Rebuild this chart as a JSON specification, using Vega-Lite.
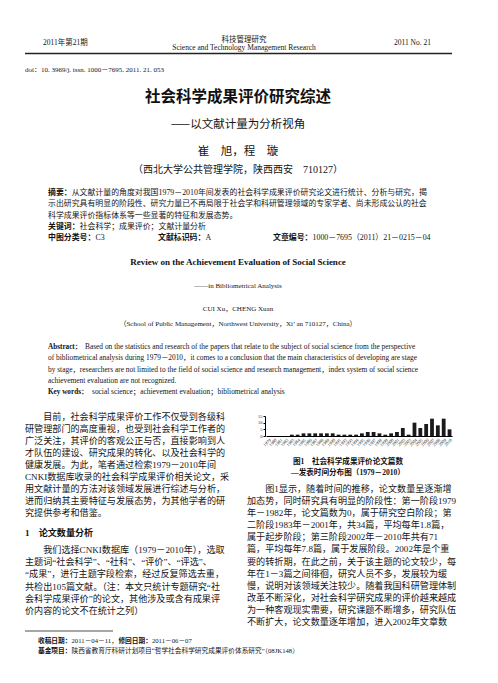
{
  "$schema": "https://vega.github.io/schema/vega-lite/v6.json",
  "width": 498,
  "height": 683,
  "autosize": "none",
  "padding": 0,
  "background": "white",
  "datasets": {
    "bars": [
      {"year": "1979", "count": 0}, {"year": "1980", "count": 0}, {"year": "1981", "count": 0}, {"year": "1982", "count": 0},
      {"year": "1983", "count": 1}, {"year": "1984", "count": 1}, {"year": "1985", "count": 2}, {"year": "1986", "count": 2},
      {"year": "1987", "count": 2}, {"year": "1988", "count": 2}, {"year": "1989", "count": 2}, {"year": "1990", "count": 2},
      {"year": "1991", "count": 1}, {"year": "1992", "count": 1}, {"year": "1993", "count": 1}, {"year": "1994", "count": 1},
      {"year": "1995", "count": 2}, {"year": "1996", "count": 3}, {"year": "1997", "count": 3}, {"year": "1998", "count": 2},
      {"year": "1999", "count": 1}, {"year": "2000", "count": 2}, {"year": "2001", "count": 3}, {"year": "2002", "count": 6},
      {"year": "2003", "count": 1}, {"year": "2004", "count": 10}, {"year": "2005", "count": 6}, {"year": "2006", "count": 9},
      {"year": "2007", "count": 13}, {"year": "2008", "count": 8}, {"year": "2009", "count": 13}, {"year": "2010", "count": 5}
    ],
    "page": [
      {"b": "hdrl", "l": 1, "t": "2011年第21期"},
      {"b": "hdrc", "l": 1, "t": "科技管理研究"},
      {"b": "hdrc", "l": 2, "t": "Science and Technology Management Research"},
      {"b": "hdrr", "l": 1, "t": "2011 No. 21"},
      {"b": "doi", "l": 1, "t": "doi：10. 3969/j. issn. 1000－7695. 2011. 21. 053"},
      {"b": "title", "l": 1, "t": "社会科学成果评价研究综述"},
      {"b": "sub", "l": 1, "t": "——以文献计量为分析视角"},
      {"b": "sub", "l": 2, "t": "崔　旭，程　璇"},
      {"b": "aff", "l": 1, "t": "（西北大学公共管理学院，陕西西安　710127）"},
      {"b": "cnabs", "l": 1, "c": 2, "t": "从文献计量的角度对我国1979－2010年间发表的社会科学成果评价研究论文进行统计、分析与研究，揭"},
      {"b": "cnabs", "l": 2, "c": 1, "t": "示出研究具有明显的阶段性、研究力量已不再局限于社会学和科研管理领域的专家学者、尚未形成公认的社会"},
      {"b": "cnabs", "l": 3, "c": 1, "t": "科学成果评价指标体系等一些显著的特征和发展态势。"},
      {"b": "cnabs", "l": 4, "c": 3, "t": "社会科学；成果评价；文献计量分析"},
      {"b": "cnabs", "l": 5, "c": 4, "t": "C3"},
      {"b": "cnabs", "l": 5, "c": 5, "t": "A"},
      {"b": "cnabs", "l": 5, "c": 6, "t": "1000－7695（2011）21－0215－04"},
      {"b": "cnabsb", "l": 1, "c": 1, "t": "摘要："},
      {"b": "cnabsb", "l": 4, "c": 1, "t": "关键词："},
      {"b": "cnabsb", "l": 5, "c": 1, "t": "中图分类号："},
      {"b": "cnabsb", "l": 5, "c": 2, "t": "文献标识码："},
      {"b": "cnabsb", "l": 5, "c": 3, "t": "文章编号："},
      {"b": "entitle", "l": 1, "t": "Review on the Achievement Evaluation of Social Science"},
      {"b": "encenter", "l": 1, "t": "——in Bibliometrical Analysis"},
      {"b": "encenter", "l": 2, "t": "CUI Xu，CHENG Xuan"},
      {"b": "encenter", "l": 3, "t": "（School of Public Management，Northwest University，Xi’ an 710127，China）"},
      {"b": "enabsb", "l": 1, "t": "Abstract："},
      {"b": "enabsb", "l": 5, "t": "Key words："},
      {"b": "enabs", "l": 1, "c": 2, "t": "Based on the statistics and research of the papers that relate to the subject of social science from the perspective"},
      {"b": "enabs", "l": 2, "c": 1, "t": "of bibliometrical analysis during 1979－2010，it comes to a conclusion that the main characteristics of developing are stage"},
      {"b": "enabs", "l": 3, "c": 1, "t": "by stage，researchers are not limited to the field of social science and research management，index system of social science"},
      {"b": "enabs", "l": 4, "c": 1, "t": "achievement evaluation are not recognized."},
      {"b": "enabs", "l": 5, "c": 3, "t": "social science；achievement evaluation；bibliometrical analysis"},
      {"b": "bl", "l": 1, "i": 1, "t": "目前，社会科学成果评价工作不仅受到各级科"},
      {"b": "bl", "l": 2, "i": 0, "t": "研管理部门的高度重视，也受到社会科学工作者的"},
      {"b": "bl", "l": 3, "i": 0, "t": "广泛关注，其评价的客观公正与否，直接影响到人"},
      {"b": "bl", "l": 4, "i": 0, "t": "才队伍的建设、研究成果的转化、以及社会科学的"},
      {"b": "bl", "l": 5, "i": 0, "t": "健康发展。为此，笔者通过检索1979－2010年间"},
      {"b": "bl", "l": 6, "i": 0, "t": "CNKI数据库收录的社会科学成果评价相关论文，采"},
      {"b": "bl", "l": 7, "i": 0, "t": "用文献计量的方法对该领域发展进行综述与分析，"},
      {"b": "bl", "l": 8, "i": 0, "t": "进而归纳其主要特征与发展态势，为其他学者的研"},
      {"b": "bl", "l": 9, "i": 0, "t": "究提供参考和借鉴。"},
      {"b": "bl", "l": 10, "i": 1, "t": "我们选择CNKI数据库（1979－2010年），选取"},
      {"b": "bl", "l": 11, "i": 0, "t": "主题词“社会科学”、“社科”、“评价”、“评选”、"},
      {"b": "bl", "l": 12, "i": 0, "t": "“成果”，进行主题字段检索，经过反复筛选去重，"},
      {"b": "bl", "l": 13, "i": 0, "t": "共检出105篇文献。（注：本文只统计专题研究“社"},
      {"b": "bl", "l": 14, "i": 0, "t": "会科学成果评价”的论文，其他涉及或含有成果评"},
      {"b": "bl", "l": 15, "i": 0, "t": "价内容的论文不在统计之列）"},
      {"b": "head", "l": 1, "t": "1　论文数量分析"},
      {"b": "cap", "l": 1, "t": "图1　社会科学成果评价论文篇数"},
      {"b": "cap", "l": 2, "t": "—发表时间分布图（1979－2010）"},
      {"b": "br", "l": 1, "i": 1, "t": "图1显示，随着时间的推移，论文数量呈逐渐增"},
      {"b": "br", "l": 2, "i": 0, "t": "加态势，同时研究具有明显的阶段性：第一阶段1979"},
      {"b": "br", "l": 3, "i": 0, "t": "年－1982年，论文篇数为0，属于研究空白阶段；第"},
      {"b": "br", "l": 4, "i": 0, "t": "二阶段1983年－2001年，共34篇，平均每年1.8篇，"},
      {"b": "br", "l": 5, "i": 0, "t": "属于起步阶段；第三阶段2002年－2010年共有71"},
      {"b": "br", "l": 6, "i": 0, "t": "篇，平均每年7.8篇，属于发展阶段。2002年是个重"},
      {"b": "br", "l": 7, "i": 0, "t": "要的转折期，在此之前，关于该主题的论文较少，每"},
      {"b": "br", "l": 8, "i": 0, "t": "年在1－3篇之间徘徊，研究人员不多，发展较为缓"},
      {"b": "br", "l": 9, "i": 0, "t": "慢，说明对该领域关注较少。随着我国科研管理体制"},
      {"b": "br", "l": 10, "i": 0, "t": "改革不断深化，对社会科学研究成果的评价越来越成"},
      {"b": "br", "l": 11, "i": 0, "t": "为一种客观现实需要，研究课题不断增多，研究队伍"},
      {"b": "br", "l": 12, "i": 0, "t": "不断扩大，论文数量逐年增加，进入2002年文章数"},
      {"b": "foot", "l": 1, "c": 2, "t": "2011－04－11，"},
      {"b": "foot", "l": 1, "c": 4, "t": "2011－06－07"},
      {"b": "foot", "l": 2, "c": 2, "t": "陕西省教育厅科研计划项目“哲学社会科学研究成果评价体系研究”（08JK148）"},
      {"b": "footb", "l": 1, "c": 1, "t": "收稿日期："},
      {"b": "footb", "l": 1, "c": 3, "t": "修回日期："},
      {"b": "footb", "l": 2, "c": 1, "t": "基金项目："}
    ]
  },
  "layer": [
    {
      "data": {"name": "bars"},
      "mark": {"type": "bar", "color": "#1a1a1a"},
      "encoding": {
        "x": {
          "field": "year", "type": "ordinal",
          "scale": {"range": [266, 452], "paddingInner": 0.35, "paddingOuter": 0.1},
          "axis": {"orient": "bottom", "offset": -247, "title": null, "labelAngle": -45, "labelFontSize": 4.5,
                   "labelColor": "#333", "labelOverlap": false, "labelPadding": 1, "ticks": false,
                   "domainColor": "#000", "domainWidth": 1.2}
        },
        "y": {
          "field": "count", "type": "quantitative",
          "scale": {"domain": [0, 15], "range": [436, 416], "nice": false},
          "axis": {"orient": "left", "offset": -265, "title": null, "values": [0, 5, 10, 15], "labelFontSize": 4.5,
                   "labelColor": "#333", "labelPadding": 1, "tickSize": 2, "tickColor": "#000", "grid": false, "domainColor": "#000"}
        }
      }
    },
    {
      "data": {"values": [{"r": 1}]},
      "mark": {"type": "rule", "color": "#222", "strokeWidth": 1.3},
      "encoding": {"x": {"value": 25}, "x2": {"value": 452}, "y": {"value": 53.5}}
    },
    {
      "data": {"values": [{"r": 1}]},
      "mark": {"type": "rule", "color": "#222", "strokeWidth": 0.8},
      "encoding": {"x": {"value": 25}, "x2": {"value": 113}, "y": {"value": 631}}
    },
    {
      "data": {"name": "page"},
      "transform": [{"filter": "datum.b == 'hdrl'"}],
      "mark": {"type": "text", "align": "left", "baseline": "middle", "font": "Liberation Serif, Noto Sans CJK SC", "fontSize": 7.5, "color": "#151515"},
      "encoding": {"text": {"field": "t"}, "x": {"value": 43}, "y": {"value": 43}}
    },
    {
      "data": {"name": "page"},
      "transform": [{"filter": "datum.b == 'hdrc'"}],
      "mark": {"type": "text", "align": "center", "baseline": "middle", "font": "Liberation Serif, Noto Sans CJK SC", "fontSize": 7.5, "color": "#151515"},
      "encoding": {
        "text": {"field": "t"}, "x": {"value": 244},
        "y": {"field": "l", "type": "quantitative", "scale": {"domain": [1, 2], "range": [40, 48], "nice": false, "zero": false}, "axis": null}
      }
    },
    {
      "data": {"name": "page"},
      "transform": [{"filter": "datum.b == 'hdrr'"}],
      "mark": {"type": "text", "align": "right", "baseline": "middle", "font": "Liberation Serif", "fontSize": 7.5, "color": "#151515"},
      "encoding": {"text": {"field": "t"}, "x": {"value": 431}, "y": {"value": 43}}
    },
    {
      "data": {"name": "page"},
      "transform": [{"filter": "datum.b == 'doi'"}],
      "mark": {"type": "text", "align": "left", "baseline": "middle", "font": "Liberation Serif, Noto Sans CJK SC", "fontSize": 7, "color": "#151515"},
      "encoding": {"text": {"field": "t"}, "x": {"value": 25}, "y": {"value": 70}}
    },
    {
      "data": {"name": "page"},
      "transform": [{"filter": "datum.b == 'title'"}],
      "mark": {"type": "text", "align": "center", "baseline": "middle", "font": "Noto Sans CJK SC", "fontWeight": "bold", "fontSize": 15.5, "color": "#111"},
      "encoding": {"text": {"field": "t"}, "x": {"value": 238}, "y": {"value": 97}}
    },
    {
      "data": {"name": "page"},
      "transform": [{"filter": "datum.b == 'sub'"}],
      "mark": {"type": "text", "align": "center", "baseline": "middle", "font": "Noto Sans CJK SC", "fontSize": 11.5, "color": "#151515"},
      "encoding": {
        "text": {"field": "t"}, "x": {"value": 238},
        "y": {"field": "l", "type": "quantitative", "scale": {"domain": [1, 2], "range": [125, 152], "nice": false, "zero": false}, "axis": null}
      }
    },
    {
      "data": {"name": "page"},
      "transform": [{"filter": "datum.b == 'aff'"}],
      "mark": {"type": "text", "align": "center", "baseline": "middle", "font": "Liberation Serif, Noto Sans CJK SC", "fontSize": 10, "color": "#151515"},
      "encoding": {"text": {"field": "t"}, "x": {"value": 238}, "y": {"value": 170}}
    },
    {
      "data": {"name": "page"},
      "transform": [{"filter": "datum.b == 'cnabs'"}],
      "mark": {"type": "text", "align": "left", "baseline": "middle", "font": "Liberation Serif, Noto Sans CJK SC", "fontSize": 7.9, "color": "#151515"},
      "encoding": {
        "text": {"field": "t"},
        "x": {"field": "c", "type": "quantitative", "scale": {"domain": [1, 2, 3, 4, 5, 6], "range": [48, 71.7, 79.6, 95.4, 205.4, 312.5], "nice": false, "zero": false}, "axis": null},
        "y": {"field": "l", "type": "quantitative", "scale": {"domain": [1, 5], "range": [193, 238], "nice": false, "zero": false}, "axis": null}
      }
    },
    {
      "data": {"name": "page"},
      "transform": [{"filter": "datum.b == 'cnabsb'"}],
      "mark": {"type": "text", "align": "left", "baseline": "middle", "font": "Noto Sans CJK SC", "fontWeight": "bold", "fontSize": 7.9, "color": "#111"},
      "encoding": {
        "text": {"field": "t"},
        "x": {"field": "c", "type": "quantitative", "scale": {"domain": [1, 2, 3], "range": [48, 158, 273], "nice": false, "zero": false}, "axis": null},
        "y": {"field": "l", "type": "quantitative", "scale": {"domain": [1, 5], "range": [193, 238], "nice": false, "zero": false}, "axis": null}
      }
    },
    {
      "data": {"name": "page"},
      "transform": [{"filter": "datum.b == 'entitle'"}],
      "mark": {"type": "text", "align": "center", "baseline": "middle", "font": "Liberation Serif", "fontWeight": "bold", "fontSize": 9, "color": "#111"},
      "encoding": {"text": {"field": "t"}, "x": {"value": 238}, "y": {"value": 262}}
    },
    {
      "data": {"name": "page"},
      "transform": [{"filter": "datum.b == 'encenter'"}],
      "mark": {"type": "text", "align": "center", "baseline": "middle", "font": "Liberation Serif, Noto Sans CJK SC", "fontSize": 7, "color": "#151515"},
      "encoding": {
        "text": {"field": "t"}, "x": {"value": 238},
        "y": {"field": "l", "type": "quantitative", "scale": {"domain": [1, 2, 3], "range": [286, 309, 324], "nice": false, "zero": false}, "axis": null}
      }
    },
    {
      "data": {"name": "page"},
      "transform": [{"filter": "datum.b == 'enabsb'"}],
      "mark": {"type": "text", "align": "left", "baseline": "middle", "font": "Liberation Serif, Noto Sans CJK SC", "fontWeight": "bold", "fontSize": 7.2, "color": "#111"},
      "encoding": {
        "text": {"field": "t"}, "x": {"value": 48},
        "y": {"field": "l", "type": "quantitative", "scale": {"domain": [1, 5], "range": [347, 392], "nice": false, "zero": false}, "axis": null}
      }
    },
    {
      "data": {"name": "page"},
      "transform": [{"filter": "datum.b == 'enabs'"}],
      "mark": {"type": "text", "align": "left", "baseline": "middle", "font": "Liberation Serif, Noto Sans CJK SC", "fontSize": 7.4, "color": "#151515"},
      "encoding": {
        "text": {"field": "t"},
        "x": {"field": "c", "type": "quantitative", "scale": {"domain": [1, 2, 3], "range": [48, 85, 92], "nice": false, "zero": false}, "axis": null},
        "y": {"field": "l", "type": "quantitative", "scale": {"domain": [1, 5], "range": [347, 392], "nice": false, "zero": false}, "axis": null}
      }
    },
    {
      "data": {"name": "page"},
      "transform": [{"filter": "datum.b == 'bl'"}],
      "mark": {"type": "text", "align": "left", "baseline": "middle", "font": "Liberation Serif, Noto Sans CJK SC", "fontSize": 9.1, "color": "#151515"},
      "encoding": {
        "text": {"field": "t"},
        "x": {"field": "i", "type": "quantitative", "scale": {"domain": [0, 1], "range": [25, 43.2], "nice": false, "zero": false}, "axis": null},
        "y": {"field": "l", "type": "quantitative", "scale": {"domain": [1, 9, 10, 15], "range": [417, 513, 550, 611], "nice": false, "zero": false}, "axis": null}
      }
    },
    {
      "data": {"name": "page"},
      "transform": [{"filter": "datum.b == 'head'"}],
      "mark": {"type": "text", "align": "left", "baseline": "middle", "font": "Liberation Serif, Noto Sans CJK SC", "fontWeight": "bold", "fontSize": 9.1, "color": "#111"},
      "encoding": {"text": {"field": "t"}, "x": {"value": 25}, "y": {"value": 533}}
    },
    {
      "data": {"name": "page"},
      "transform": [{"filter": "datum.b == 'cap'"}],
      "mark": {"type": "text", "align": "center", "baseline": "middle", "font": "Liberation Serif, Noto Sans CJK SC", "fontWeight": "bold", "fontSize": 7.6, "color": "#111"},
      "encoding": {
        "text": {"field": "t"}, "x": {"value": 348},
        "y": {"field": "l", "type": "quantitative", "scale": {"domain": [1, 2], "range": [462, 473], "nice": false, "zero": false}, "axis": null}
      }
    },
    {
      "data": {"name": "page"},
      "transform": [{"filter": "datum.b == 'br'"}],
      "mark": {"type": "text", "align": "left", "baseline": "middle", "font": "Liberation Serif, Noto Sans CJK SC", "fontSize": 9.1, "color": "#151515"},
      "encoding": {
        "text": {"field": "t"},
        "x": {"field": "i", "type": "quantitative", "scale": {"domain": [0, 1], "range": [247, 265.2], "nice": false, "zero": false}, "axis": null},
        "y": {"field": "l", "type": "quantitative", "scale": {"domain": [1, 12], "range": [489, 622], "nice": false, "zero": false}, "axis": null}
      }
    },
    {
      "data": {"name": "page"},
      "transform": [{"filter": "datum.b == 'foot'"}],
      "mark": {"type": "text", "align": "left", "baseline": "middle", "font": "Liberation Serif, Noto Sans CJK SC", "fontSize": 6.7, "color": "#151515"},
      "encoding": {
        "text": {"field": "t"},
        "x": {"field": "c", "type": "quantitative", "scale": {"domain": [1, 2, 3, 4], "range": [38, 71.5, 118.4, 151.9], "nice": false, "zero": false}, "axis": null},
        "y": {"field": "l", "type": "quantitative", "scale": {"domain": [1, 2], "range": [641, 651], "nice": false, "zero": false}, "axis": null}
      }
    },
    {
      "data": {"name": "page"},
      "transform": [{"filter": "datum.b == 'footb'"}],
      "mark": {"type": "text", "align": "left", "baseline": "middle", "font": "Noto Sans CJK SC", "fontWeight": "bold", "fontSize": 6.7, "color": "#111"},
      "encoding": {
        "text": {"field": "t"},
        "x": {"field": "c", "type": "quantitative", "scale": {"domain": [1, 2, 3, 4], "range": [38, 71.5, 118.4, 151.9], "nice": false, "zero": false}, "axis": null},
        "y": {"field": "l", "type": "quantitative", "scale": {"domain": [1, 2], "range": [641, 651], "nice": false, "zero": false}, "axis": null}
      }
    }
  ],
  "resolve": {"scale": {"x": "independent", "y": "independent"}, "axis": {"x": "independent", "y": "independent"}},
  "config": {
    "view": {"stroke": null},
    "axis": {"labelFont": "Liberation Serif"}
  }
}
